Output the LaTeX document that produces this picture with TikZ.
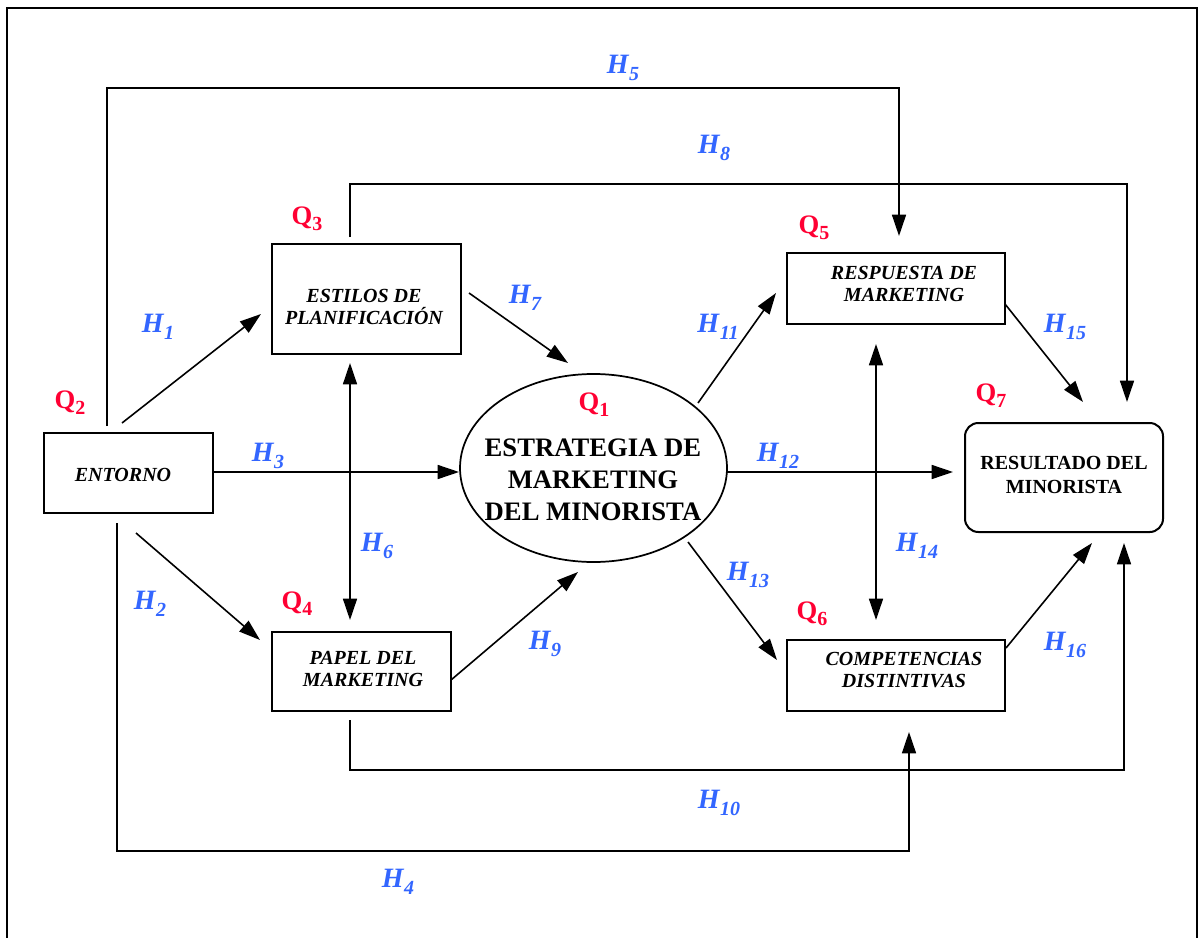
\documentclass[tikz,border=0pt]{standalone}
\usepackage{fontspec}
\setmainfont{Liberation Serif}
\usetikzlibrary{arrows.meta,shapes.geometric}
\definecolor{hypblue}{RGB}{51,102,255}
\definecolor{qred}{RGB}{255,0,51}
% hypothesis label H_n and question label Q_n
\newcommand\hyplab[1]{{\fontsize{21}{21}\selectfont\bfseries\itshape H\kern0.5pt\raisebox{-5.5pt}{\fontsize{15}{15}\selectfont#1}}}
\newcommand\qlab[1]{{\fontsize{20}{20}\selectfont\bfseries Q\raisebox{-4.5pt}{\fontsize{15}{15}\selectfont#1}}}
\begin{document}
\begin{tikzpicture}[x=0.75pt,y=-0.75pt,
  box/.style={draw, line width=1.5pt, inner sep=0pt},
  boxtext/.style={inner sep=0pt, align=center, font=\fontsize{15}{16.5}\selectfont\bfseries\itshape},
  bigtext/.style={inner sep=0pt, align=center, font=\fontsize{15}{18}\selectfont\bfseries},
  link/.style={line width=1.2pt},
  arr/.style={link, -{Triangle[length=16pt,width=10.5pt]}},
  darr/.style={link, {Triangle[length=16pt,width=10.5pt]}-{Triangle[length=16pt,width=10.5pt]}},
  hl/.style={text=hypblue, inner sep=0pt},
  ql/.style={text=qred, inner sep=0pt}]

\useasboundingbox (0,0) rectangle (1199,938);
\fill[white] (0,0) rectangle (1199,938);
% outer frame, open at the bottom
\draw[line width=1.6pt] (7,950) -- (7,8) -- (1197,8) -- (1197,950);

% boxes
\node[box, minimum width=126.75pt, minimum height=60pt] (ent) at (128.5,473) {};
\node[box, minimum width=141.75pt, minimum height=82.5pt] (est) at (366.5,299) {};
\node[box, minimum width=134.25pt, minimum height=59.25pt] (pap) at (361.5,671.5) {};
\node[box, minimum width=163.5pt, minimum height=53.25pt] (res) at (896,288.5) {};
\node[box, minimum width=163.5pt, minimum height=53.25pt] (com) at (896,675.5) {};
\node[box, rounded corners=10pt, minimum width=148.5pt, minimum height=81.75pt] (rdo) at (1064,477.5) {};
\node[draw, line width=1.3pt, ellipse, inner sep=0pt, minimum width=200.25pt, minimum height=141pt] (ell) at (593.5,468) {};

% box texts
\node[boxtext] (entT) at (123,475) {ENTORNO};
\node[boxtext] (estT) at (364,307) {ESTILOS DE\\PLANIFICACIÓN};
\node[boxtext] (papT) at (363,669) {PAPEL DEL\\MARKETING};
\node[boxtext] (resT) at (904,283.5) {RESPUESTA DE\\MARKETING};
\node[boxtext] (comT) at (904,670) {COMPETENCIAS\\DISTINTIVAS};
\node[bigtext] (rdoT) at (1064,475) {RESULTADO DEL\\MINORISTA};
\node[inner sep=0pt, align=center, font=\fontsize{20}{24}\selectfont\bfseries] (ellT) at (593,480) {ESTRATEGIA DE\\MARKETING\\DEL MINORISTA};

% question labels
\node[ql] (q1) at (594,405) {\qlab{1}};
\node[ql] (q2) at (70,403) {\qlab{2}};
\node[ql] (q3) at (307,219) {\qlab{3}};
\node[ql] (q4) at (297,604) {\qlab{4}};
\node[ql] (q5) at (814,228) {\qlab{5}};
\node[ql] (q6) at (812,614) {\qlab{6}};
\node[ql] (q7) at (991,396) {\qlab{7}};

% hypothesis labels
\node[hl] (l1) at (158,327) {\hyplab{1}};
\node[hl] (l2) at (150,604) {\hyplab{2}};
\node[hl] (l3) at (268,456) {\hyplab{3}};
\node[hl] (l4) at (398,882) {\hyplab{4}};
\node[hl] (l5) at (623,68) {\hyplab{5}};
\node[hl] (l6) at (377,546) {\hyplab{6}};
\node[hl] (l7) at (525,298) {\hyplab{7}};
\node[hl] (l8) at (714,148) {\hyplab{8}};
\node[hl] (l9) at (545,644) {\hyplab{9}};
\node[hl] (l10) at (719,803) {\hyplab{10}};
\node[hl] (l11) at (718,327) {\hyplab{11}};
\node[hl] (l12) at (778,456) {\hyplab{12}};
\node[hl] (l13) at (748,575) {\hyplab{13}};
\node[hl] (l14) at (917,546) {\hyplab{14}};
\node[hl] (l15) at (1065,327) {\hyplab{15}};
\node[hl] (l16) at (1065,645) {\hyplab{16}};

% connector end points
\coordinate (h5s) at (107,426);  \coordinate (h5a) at (107,88);  \coordinate (h5b) at (899,88);  \coordinate (h5e) at (899,236);
\coordinate (h8s) at (350,237);  \coordinate (h8a) at (350,184); \coordinate (h8b) at (1127,184); \coordinate (h8e) at (1127,402);
\coordinate (h4s) at (117,523);  \coordinate (h4a) at (117,851); \coordinate (h4b) at (909,851);  \coordinate (h4e) at (909,732);
\coordinate (h10s) at (350,720); \coordinate (h10a) at (350,770); \coordinate (h10b) at (1124,770); \coordinate (h10e) at (1124,543);
\coordinate (h1s) at (122,423);  \coordinate (h1e) at (261,314);
\coordinate (h2s) at (136,533);  \coordinate (h2e) at (260,640);
\coordinate (h3s) at (213,472);  \coordinate (h3e) at (459,472);
\coordinate (h6s) at (350,363);  \coordinate (h6e) at (350,620);
\coordinate (h7s) at (469,293);  \coordinate (h7e) at (568,363);
\coordinate (h9s) at (451,680);  \coordinate (h9e) at (578,572);
\coordinate (h11s) at (698,403); \coordinate (h11e) at (776,293);
\coordinate (h12s) at (727,472); \coordinate (h12e) at (953,472);
\coordinate (h13s) at (688,542); \coordinate (h13e) at (777,660);
\coordinate (h14s) at (876,344); \coordinate (h14e) at (876,620);
\coordinate (h15s) at (1005,304); \coordinate (h15e) at (1083,402);
\coordinate (h16s) at (1006,648); \coordinate (h16e) at (1092,543);

% connectors
\draw[arr] (h5s) -- (h5a) -- (h5b) -- (h5e);
\draw[arr] (h8s) -- (h8a) -- (h8b) -- (h8e);
\draw[arr] (h4s) -- (h4a) -- (h4b) -- (h4e);
\draw[arr] (h10s) -- (h10a) -- (h10b) -- (h10e);
\draw[arr] (h1s) -- (h1e);
\draw[arr] (h2s) -- (h2e);
\draw[arr] (h3s) -- (h3e);
\draw[darr] (h6s) -- (h6e);
\draw[arr] (h7s) -- (h7e);
\draw[arr] (h9s) -- (h9e);
\draw[arr] (h11s) -- (h11e);
\draw[arr] (h12s) -- (h12e);
\draw[arr] (h13s) -- (h13e);
\draw[darr] (h14s) -- (h14e);
\draw[arr] (h15s) -- (h15e);
\draw[arr] (h16s) -- (h16e);
\end{tikzpicture}
\end{document}
